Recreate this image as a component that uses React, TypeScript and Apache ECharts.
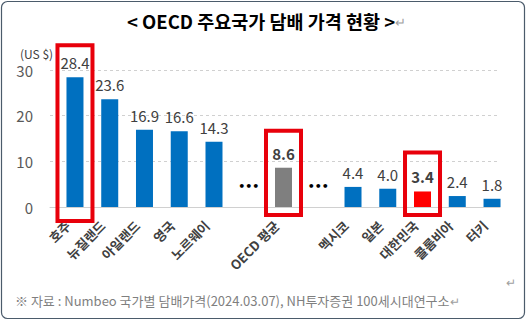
import React, { useEffect, useRef } from 'react';
import * as echarts from 'echarts';

const categories = ['호주', '뉴질랜드', '아일랜드', '영국', '노르웨이', 'gap1', 'OECD 평균', 'gap2', '멕시코', '일본', '대한민국', '콜롬비아', '터키'];
const prices: (number | null)[] = [28.4, 23.6, 16.9, 16.6, 14.3, null, 8.6, null, 4.4, 4.0, 3.4, 2.4, 1.8];
const yTicks = [0, 10, 20, 30];
const gapCategories = ['gap1', 'gap2'];
const averageCategory = 'OECD 평균';
const koreaCategory = '대한민국';
const boxedCategories = ['호주', 'OECD 평균', '대한민국'];
const titleText = '< OECD 주요국가 담배 가격 현황 >';
const unitText = '(US $)';
const sourceText = '※ 자료 : Numbeo 국가별 담배가격(2024.03.07), NH투자증권 100세시대연구소';

const FONT = '"Noto Sans CJK KR", "Noto Sans", sans-serif';

export default function App() {
  const ref = useRef<HTMLDivElement>(null);
  useEffect(() => {
    if (!ref.current) return;
    const chart = echarts.init(ref.current, undefined, { renderer: 'svg' });
    const yMin = yTicks[0];
    const yMax = yTicks[yTicks.length - 1];
    const yInterval = yTicks[1] - yTicks[0];
    const gridTop = 70;
    const gridBottom = 116;

    const barData = prices.map((v, i) => {
      const name = categories[i];
      const isAvg = name === averageCategory;
      const isKorea = name === koreaCategory;
      return {
        value: v,
        itemStyle: { color: isAvg ? '#7f7f7f' : isKorea ? '#ff0000' : '#0070c0' },
        label: { fontWeight: isAvg || isKorea ? 'bold' : 'normal' },
      };
    });

    chart.setOption({
      animation: false,
      grid: [
        { left: 50, right: 28, top: gridTop, bottom: gridBottom },
        { left: 57.6, right: 18.6, top: gridTop, bottom: gridBottom },
      ],
      xAxis: [
        {
          gridIndex: 0,
          type: 'category',
          data: categories,
          axisLine: { show: true, lineStyle: { color: '#d0d0d0', width: 1 } },
          axisTick: { show: false },
          axisLabel: { show: false },
        },
        {
          gridIndex: 1,
          type: 'category',
          data: categories,
          axisLine: { show: false },
          axisTick: { show: false },
          axisLabel: {
            rotate: 45,
            margin: 9,
            padding: [0, 10, 0, 0],
            interval: 0,
            fontFamily: FONT,
            fontSize: 13,
            fontWeight: 'bold',
            color: '#404040',
            formatter: (v: string) => (gapCategories.includes(v) ? '' : v),
          },
        },
      ],
      yAxis: [
        {
          gridIndex: 0,
          type: 'value',
          min: yMin,
          max: yMax,
          interval: yInterval,
          axisLine: { show: false },
          axisTick: { show: false },
          axisLabel: { margin: 17, fontFamily: FONT, fontSize: 15, color: '#595959' },
          splitLine: { show: true, lineStyle: { color: '#d0d0d0', type: [3, 3], width: 1 } },
        },
        {
          gridIndex: 1,
          type: 'value',
          min: yMin,
          max: yMax,
          interval: yInterval,
          show: false,
          splitLine: { show: false },
        },
      ],
      series: [
        {
          type: 'bar',
          xAxisIndex: 1,
          yAxisIndex: 1,
          data: barData,
          barWidth: 17,
          label: {
            show: true,
            position: 'top',
            distance: 7,
            fontFamily: FONT,
            fontSize: 15,
            color: '#404040',
            formatter: (p: any) => (p.value == null ? '' : Number(p.value).toFixed(1)),
          },
        },
      ],
    });

    const toPx = (idx: number, val: number) =>
      chart.convertToPixel({ xAxisIndex: 1, yAxisIndex: 1 }, [idx, val]) as number[];

    const graphics: any[] = [];
    graphics.push({
      type: 'rect',
      shape: { x: 1.5, y: 1.5, width: 523, height: 317, r: 6 },
      style: { fill: 'none', stroke: '#4b5b6b', lineWidth: 1.2 },
      z: 1,
    });
    graphics.push({
      type: 'text',
      left: 127,
      top: 12,
      style: {
        text: '{t|' + titleText + '}{r|↵}',
        rich: {
          t: { fontFamily: FONT, fontSize: 18.5, fontWeight: 'bold', fill: '#000' },
          r: { fontFamily: FONT, fontSize: 13, fill: '#a0a0a0' },
        },
      },
    });
    graphics.push({
      type: 'text',
      left: 20,
      top: 47,
      style: { text: unitText, fontFamily: FONT, fontSize: 12, fill: '#404040' },
    });
    graphics.push({
      type: 'text',
      x: 15,
      y: 300,
      scaleX: 1.0,
      style: {
        text: '{t|' + sourceText + '}{r|↵}',
        verticalAlign: 'middle',
        rich: {
          t: { fontFamily: FONT, fontSize: 13, fill: '#7f7f7f' },
          r: { fontFamily: FONT, fontSize: 12, fill: '#a0a0a0' },
        },
      },
    });
    graphics.push({
      type: 'text',
      x: 506,
      y: 281,
      style: { text: '↵', fontFamily: FONT, fontSize: 12, fill: '#a0a0a0', verticalAlign: 'middle' },
    });
    gapCategories.forEach((g) => {
      const [x, y] = toPx(categories.indexOf(g), 4.5);
      graphics.push({
        type: 'text',
        x,
        y,
        style: { text: '•••', fontFamily: 'DejaVu Sans', fontSize: 11, fontWeight: 'bold', fill: '#000', align: 'center', verticalAlign: 'middle' },
      });
    });
    const boxTopPad: Record<string, number> = { '호주': 32, 'OECD 평균': 37, '대한민국': 39 };
    const boxBottom: Record<string, number> = { '호주': 221, 'OECD 평균': 215, '대한민국': 215 };
    boxedCategories.forEach((c) => {
      const i = categories.indexOf(c);
      const [x, yTop] = toPx(i, prices[i] as number);
      const top = yTop - boxTopPad[c];
      graphics.push({
        type: 'rect',
        shape: { x: x - 17.5, y: top, width: 35, height: boxBottom[c] - top },
        style: { fill: 'none', stroke: '#e8000b', lineWidth: 4 },
        z: 10,
      });
    });

    chart.setOption({ graphic: graphics });
    return () => chart.dispose();
  }, []);
  return <div ref={ref} style={{ position: 'absolute', left: 0, top: 0, width: 528, height: 323, background: '#fff' }} />;
}
